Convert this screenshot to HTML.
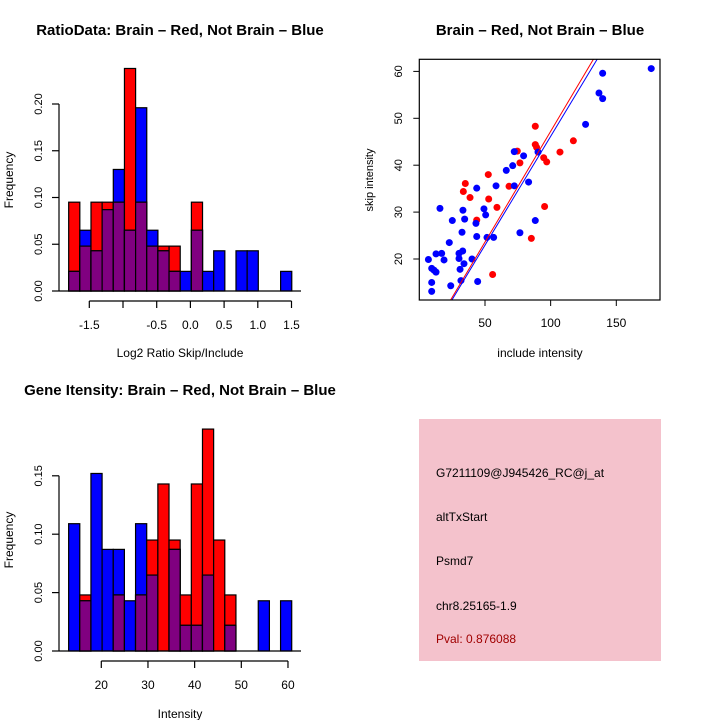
<!DOCTYPE html>
<html><head><meta charset="utf-8"><style>
html,body{margin:0;padding:0;background:#fff;}
svg{display:block;font-family:"Liberation Sans",sans-serif;}
</style></head><body>
<svg id="s" width="720" height="720" viewBox="0 0 720 720">
<rect width="720" height="720" fill="#fff"/>
<text x="180" y="35" text-anchor="middle" font-size="15" font-weight="bold">RatioData: Brain – Red, Not Brain – Blue</text>
<text x="540" y="35" text-anchor="middle" font-size="15" font-weight="bold">Brain – Red, Not Brain – Blue</text>
<text x="180" y="395" text-anchor="middle" font-size="15" font-weight="bold">Gene Itensity: Brain – Red, Not Brain – Blue</text>
<text x="180" y="357" text-anchor="middle" font-size="12">Log2 Ratio Skip/Include</text>
<text x="180" y="718" text-anchor="middle" font-size="12">Intensity</text>
<text x="540" y="357" text-anchor="middle" font-size="12">include intensity</text>
<text transform="translate(13,180) rotate(-90)" text-anchor="middle" font-size="12">Frequency</text>
<text transform="translate(13,540) rotate(-90)" text-anchor="middle" font-size="12">Frequency</text>
<text transform="translate(373,180) rotate(-90)" text-anchor="middle" font-size="11">skip intensity</text>
<g>
<rect x="419" y="419" width="242" height="242" fill="#f4c2cc"/>
<text x="436" y="477" font-size="12">G7211109@J945426_RC@j_at</text>
<text x="436" y="521" font-size="12">altTxStart</text>
<text x="436" y="565" font-size="12">Psmd7</text>
<text x="436" y="610" font-size="12">chr8.25165-1.9</text>
<text x="436" y="643" font-size="12" fill="#a00000">Pval: 0.876088</text>
</g>
</svg>
<script>
// ---- Ratio histogram data ----
const ratioRed  = [0.095,0.048,0.095,0.095,0.095,0.238,0.095,0.048,0.048,0.048,0,0.095,0,0,0,0,0,0,0,0];
const ratioBlue = [0.021,0.065,0.043,0.087,0.130,0.065,0.196,0.065,0.043,0.021,0.021,0.065,0.021,0.043,0,0.043,0.043,0,0,0.021];
const ratioXTicks = [-1.5,-1,-0.5,0,0.5,1,1.5];
const ratioXLabels = ["-1.5","","-0.5","0.0","0.5","1.0","1.5"];
const ratioYTicks = [0,0.05,0.10,0.15,0.20];
const ratioYLabels = ["0.00","0.05","0.10","0.15","0.20"];
// ---- Intensity histogram data ----
const intRed  = [0,0.048,0,0,0.048,0,0.048,0.095,0.143,0.095,0.048,0.143,0.190,0.095,0.048,0,0,0,0,0];
const intBlue = [0.109,0.043,0.152,0.087,0.087,0.043,0.109,0.065,0,0.087,0.022,0.022,0.065,0,0.022,0,0,0.043,0,0.043];
const intXTicks = [20,30,40,50,60];
const intYTicks = [0,0.05,0.10,0.15];
const intYLabels = ["0.00","0.05","0.10","0.15"];
// ---- Scatter data ----
const blueX = [6.9,9.4,11.2,12.7,9.4,9.4,12.7,17.0,18.8,15.7,22.8,25.1,23.9,30.2,30.2,31.0,31.7,33.0,34.0,33.2,32.5,34.5,40.1,44.4,43.7,43.1,43.7,49.2,50.5,51.5,56.6,58.4,66.2,71.1,72.3,72.3,79.4,83.2,76.6,88.3,90.4,126.6,136.8,139.6,139.6,176.6];
const blueY = [19.9,18.0,17.6,17.2,15.0,13.1,21.1,21.2,19.8,30.8,23.5,28.2,14.3,21.2,20.1,17.8,15.4,21.7,19.0,30.4,25.7,28.5,20.0,15.2,24.8,27.6,35.1,30.7,29.4,24.6,24.6,35.6,38.9,39.9,42.9,35.6,42.0,36.4,25.6,28.2,42.8,48.7,55.4,54.2,59.6,60.6];
const redX = [35.0,33.5,38.6,52.5,52.8,59.1,43.7,55.8,68.3,74.6,76.6,88.3,88.3,89.3,94.7,97.0,95.4,85.3,107.1,117.3];
const redY = [36.1,34.4,33.1,38.0,32.8,31.0,28.3,16.7,35.5,43.0,40.5,48.3,44.4,43.8,41.6,40.7,31.2,24.4,42.8,45.2];
const fitRed = [0.02,0.472];   // intercept, slope
const fitBlue = [-0.25,0.464];
const scatXTicks = [50,100,150];
const scatYTicks = [20,30,40,50,60];

const NS="http://www.w3.org/2000/svg";
const svg=document.getElementById('s');
function mk(tag,attrs,parent){const e=document.createElementNS(NS,tag);for(const k in attrs)e.setAttribute(k,attrs[k]);(parent||svg).appendChild(e);return e;}

function hist(o){
  const g=mk('g',{});
  
  
  const X=v=>o.x0+(v-o.d0)*o.kx;
  const Y=v=>o.y0-v*o.ky;
  const n=o.red.length;
  for(let i=0;i<n;i++){
    const a=X(o.b0+i*o.bw), b=X(o.b0+(i+1)*o.bw);
    const r=o.red[i], bl=o.blue[i], lo=Math.min(r,bl);
    const layers=[];
    if(r>0) layers.push([r,'#ff0000','red']);
    if(bl>0) layers.push([bl,'#0000ff','blue']);
    layers.sort((p,q)=>q[0]-p[0]);
    if(r>0&&bl>0) layers.push([lo,'#800080','overlap']);
    layers.forEach(L=>{
      const e=mk('rect',{x:a,y:Y(L[0]),width:b-a,height:Y(0)-Y(L[0]),fill:L[1],stroke:'#000','stroke-width':1.2},g);
      
      
    });
  }
  mk('line',{x1:59,x2:301,y1:Y(0),y2:Y(0),stroke:'#000','stroke-width':1.2},g);
  const yt=o.yt;
  mk('line',{x1:59,x2:59,y1:Y(yt[0]),y2:Y(yt[yt.length-1]),stroke:'#000','stroke-width':1.2},g);
  yt.forEach((v,i)=>{
    mk('line',{x1:52,x2:59,y1:Y(v),y2:Y(v),stroke:'#000','stroke-width':1.2},g);
    const t=mk('text',{transform:`translate(42,${Y(v)}) rotate(-90)`,'text-anchor':'middle','font-size':11},g);
    t.textContent=o.yl[i];
  });
  const xt=o.xt, ay=Y(0)+10;
  mk('line',{x1:X(xt[0]),x2:X(xt[xt.length-1]),y1:ay,y2:ay,stroke:'#000','stroke-width':1.2},g);
  xt.forEach((v,i)=>{
    mk('line',{x1:X(v),x2:X(v),y1:ay,y2:ay+7,stroke:'#000','stroke-width':1.2},g);
    const t=mk('text',{x:X(v),y:ay+28,'text-anchor':'middle','font-size':12},g);
    t.textContent=o.xl[i];
  });
}
hist({name:'ratio-histogram',red:ratioRed,blue:ratioBlue,x0:89.3,d0:-1.5,kx:67.4,y0:291,ky:935,b0:-1.806,bw:0.1655,
  xt:ratioXTicks,xl:ratioXLabels,yt:ratioYTicks,yl:ratioYLabels});
hist({name:'intensity-histogram',red:intRed,blue:intBlue,x0:101.3,d0:20,kx:4.667,y0:651,ky:1168,b0:13.0,bw:2.39,
  xt:intXTicks,xl:intXTicks.map(String),yt:intYTicks,yl:intYLabels});

(function(){
  const g=mk('g',{});
  
  
  const L=419.3,R=660,T=59.3,B=300;
  const X=v=>485+(v-50)*1.313;
  const Y=v=>259-(v-20)*4.69;
  const Xi=p=>50+(p-485)/1.313;
  const cp=mk('clipPath',{id:'sc'},g); mk('rect',{x:L,y:T,width:R-L,height:B-T},cp);
  const pts=mk('g',{'clip-path':'url(#sc)'},g);
  redX.forEach((v,i)=>{const c=mk('circle',{cx:X(v),cy:Y(redY[i]),r:3.5,fill:'#ff0000'},pts);
    
    });
  blueX.forEach((v,i)=>{const c=mk('circle',{cx:X(v),cy:Y(blueY[i]),r:3.5,fill:'#0000ff'},pts);
    
    });
  [[fitRed,'#ff0000','fit-line-red'],[fitBlue,'#0000ff','fit-line-blue']].forEach(f=>{
    const xa=Xi(L),xb=Xi(R);
    const l=mk('line',{x1:X(xa),y1:Y(f[0][0]+f[0][1]*xa),x2:X(xb),y2:Y(f[0][0]+f[0][1]*xb),stroke:f[1],'stroke-width':1},pts);
    
    
  });
  mk('rect',{x:L,y:T,width:R-L,height:B-T,fill:'none',stroke:'#000','stroke-width':1.2},g);
  scatXTicks.forEach(v=>{
    mk('line',{x1:X(v),x2:X(v),y1:B,y2:B+6,stroke:'#000'},g);
    const t=mk('text',{x:X(v),y:B+27,'text-anchor':'middle','font-size':12},g);t.textContent=v;
  });
  scatYTicks.forEach(v=>{
    mk('line',{x1:L-6,x2:L,y1:Y(v),y2:Y(v),stroke:'#000'},g);
    const t=mk('text',{transform:`translate(402,${Y(v)}) rotate(-90)`,'text-anchor':'middle','font-size':11},g);t.textContent=v;
  });
})();
</script>
</body></html>
